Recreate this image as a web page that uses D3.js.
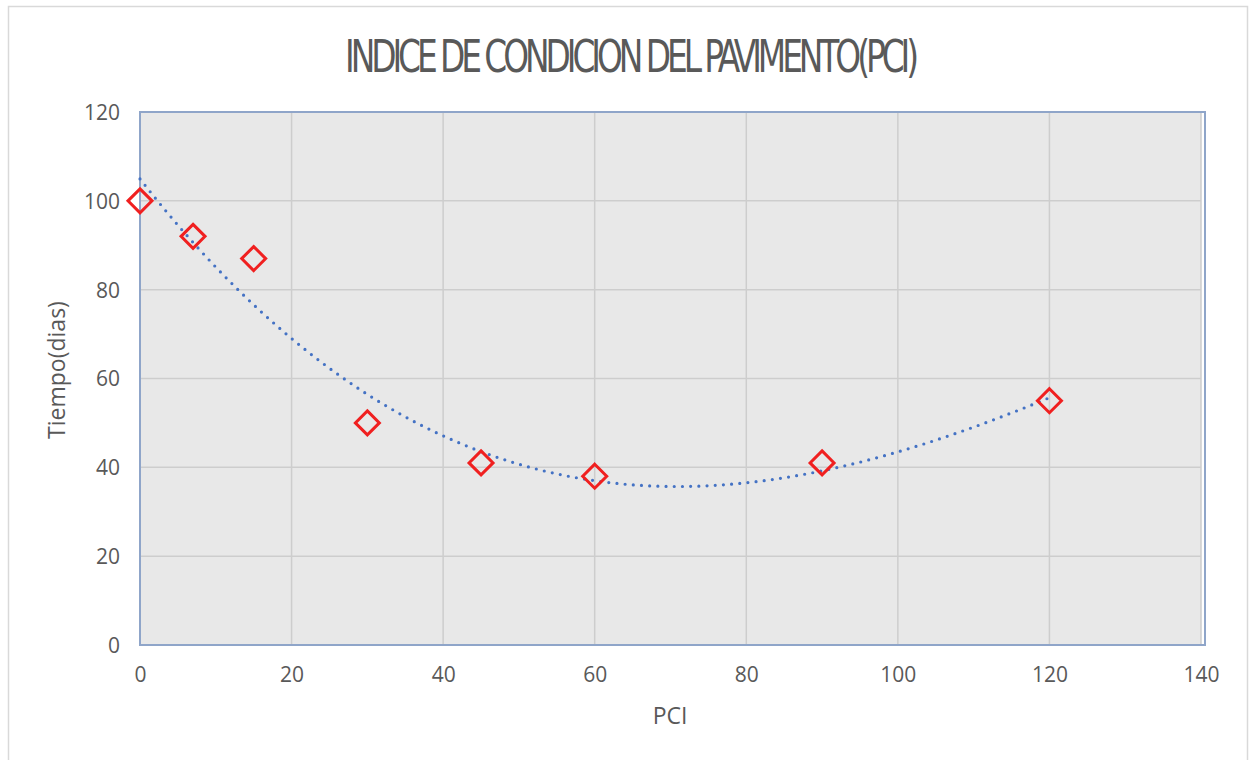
<!DOCTYPE html>
<html>
<head>
<meta charset="utf-8">
<script src="https://cdn.jsdelivr.net/npm/d3@7"></script>
<style>
  html, body { margin: 0; padding: 0; background: #ffffff; }
  svg { display: block; }
</style>
</head>
<body>
<svg id="chart" width="1253" height="760"></svg>
<script>
// PCI vs. time measurements
const pciValues = [0, 7, 15, 30, 45, 60, 90, 120];
const tiempoValues = [100, 92, 87, 50, 41, 38, 41, 55];
const xTicks = [0, 20, 40, 60, 80, 100, 120, 140];
const yTicks = [0, 20, 40, 60, 80, 100, 120];

const titleText = "INDICE DE CONDICION DEL PAVIMENTO(PCI)";
const xLabel = "PCI";
const yLabel = "Tiempo(dias)";
const trendOrder = 3;

const svg = d3.select("#chart");
const plot = { left: 140, right: 1201, top: 112, bottom: 645 };

const x = d3.scaleLinear().domain([0, 140]).range([plot.left, plot.right]);
const y = d3.scaleLinear().domain([0, 120]).range([plot.bottom, plot.top]);

// outer chart frame
svg.append("rect")
  .attr("x", 8.5).attr("y", 6.5)
  .attr("width", 1239).attr("height", 800)
  .attr("fill", "#ffffff")
  .attr("stroke", "#d9d9d9").attr("stroke-width", 1.5);

// plot area background
svg.append("rect")
  .attr("x", plot.left).attr("y", plot.top)
  .attr("width", plot.right - plot.left).attr("height", plot.bottom - plot.top)
  .attr("fill", "#e8e8e8");

// gridlines
const grid = svg.append("g");
grid.selectAll("line.v").data(xTicks.slice(1)).join("line")
  .attr("x1", d => x(d)).attr("x2", d => x(d))
  .attr("y1", plot.top).attr("y2", plot.bottom)
  .attr("stroke", "#cdcdcd").attr("stroke-width", 1.5);
grid.selectAll("line.h").data(yTicks.slice(1)).join("line")
  .attr("y1", d => y(d)).attr("y2", d => y(d))
  .attr("x1", plot.left).attr("x2", plot.right)
  .attr("stroke", "#cdcdcd").attr("stroke-width", 1.5);

// plot area border
svg.append("rect")
  .attr("x", plot.left).attr("y", plot.top)
  .attr("width", plot.right - plot.left + 4).attr("height", plot.bottom - plot.top)
  .attr("fill", "none")
  .attr("stroke", "#8fa5c9").attr("stroke-width", 2);

// axes (labels only)
const axisFont = "'Open Sans', 'Liberation Sans', sans-serif";
const xAxis = svg.append("g")
  .attr("transform", `translate(0,${plot.bottom + 20})`)
  .call(d3.axisBottom(x).tickValues(xTicks).tickSize(0).tickPadding(0));
const yAxis = svg.append("g")
  .attr("transform", `translate(${plot.left - 20},0)`)
  .call(d3.axisLeft(y).tickValues(yTicks).tickSize(0).tickPadding(0));
[xAxis, yAxis].forEach(g => {
  g.select(".domain").remove();
  g.selectAll("text")
    .attr("fill", "#595959")
    .style("font-family", axisFont)
    .style("font-size", "21px");
});
xAxis.selectAll("text").attr("dy", "0.8em");
yAxis.selectAll("text").attr("dy", "0.35em");

// least-squares polynomial trendline
function polyFit(xs, ys, order) {
  const m = order + 1;
  const A = [];
  for (let r = 0; r < m; r++) {
    const row = [];
    for (let c = 0; c < m; c++) row.push(d3.sum(xs, v => Math.pow(v, r + c)));
    row.push(d3.sum(xs, (v, i) => Math.pow(v, r) * ys[i]));
    A.push(row);
  }
  for (let c = 0; c < m; c++) {
    for (let r = c + 1; r < m; r++) {
      const f = A[r][c] / A[c][c];
      for (let k = c; k <= m; k++) A[r][k] -= f * A[c][k];
    }
  }
  const b = new Array(m).fill(0);
  for (let r = m - 1; r >= 0; r--) {
    let v = A[r][m];
    for (let k = r + 1; k < m; k++) v -= A[r][k] * b[k];
    b[r] = v / A[r][r];
  }
  return xv => b.reduce((s, bk, k) => s + bk * Math.pow(xv, k), 0);
}
const trend = polyFit(pciValues, tiempoValues, trendOrder);
const trendPts = d3.range(0, 120.01, 0.5).map(v => [v, trend(v)]);
svg.append("path")
  .datum(trendPts)
  .attr("d", d3.line().x(d => x(d[0])).y(d => y(d[1])))
  .attr("fill", "none")
  .attr("stroke", "#4472c4")
  .attr("stroke-width", 3.2)
  .attr("stroke-linecap", "round")
  .attr("stroke-dasharray", "0 8.2");

// diamond markers
const pts = pciValues.map((v, i) => ({ x: v, y: tiempoValues[i] }));
svg.append("g").selectAll("path").data(pts).join("path")
  .attr("transform", d => `translate(${x(d.x)},${y(d.y)})`)
  .attr("d", "M0,-12L12,0L0,12L-12,0Z")
  .attr("fill", "none")
  .attr("stroke", "#f02020")
  .attr("stroke-width", 3);

// title
svg.append("text")
  .attr("x", 345).attr("y", 72)
  .attr("textLength", 570)
  .attr("lengthAdjust", "spacingAndGlyphs")
  .attr("fill", "#595959")
  .style("font-family", "'Liberation Sans Narrow', 'DejaVu Sans Condensed', sans-serif")
  .style("font-size", "45px")
  .style("letter-spacing", "-5px")
  .text(titleText);

// axis titles
svg.append("text")
  .attr("x", 670).attr("y", 724)
  .attr("text-anchor", "middle")
  .attr("fill", "#595959")
  .style("font-family", axisFont)
  .style("font-size", "23px")
  .text(xLabel);

svg.append("text")
  .attr("transform", "translate(65,370) rotate(-90)")
  .attr("text-anchor", "middle")
  .attr("fill", "#595959")
  .style("font-family", axisFont)
  .style("font-size", "23px")
  .text(yLabel);
</script>
</body>
</html>
